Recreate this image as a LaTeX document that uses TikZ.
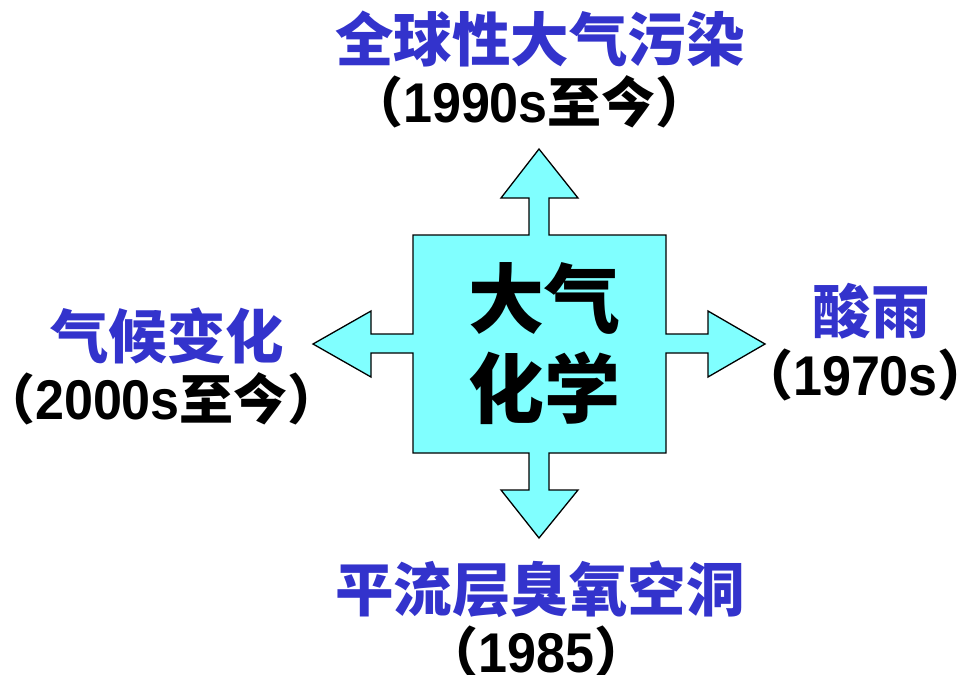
\documentclass[tikz,border=0pt]{standalone}
\usepackage{fontspec}
\newfontfamily\cjk{Noto Sans CJK SC}
\newfontfamily\dgfont{Liberation Sans}[FakeStretch=0.93]
\newcommand\dg[1]{{\dgfont\bfseries\fontsize{56}{56}\selectfont #1}}
\newcommand\lpar{\hspace{-0.5em}（}
\newcommand\rpar{）\hspace{-0.5em}}
\definecolor{lblue}{HTML}{3333CC}
\definecolor{cyanfill}{HTML}{80FFFF}
\tikzset{
  lbl/.style={anchor=base, inner sep=0pt, text=lblue, font=\cjk\bfseries\fontsize{58.5}{58.5}\selectfont},
  yr/.style={anchor=base, inner sep=0pt, text depth=0pt, text=black, font=\cjk\bfseries\fontsize{54}{54}\selectfont},
  core/.style={anchor=base, inner sep=0pt, text=black, font=\cjk\bfseries\fontsize{76}{76}\selectfont},
  crossshape/.style={fill=cyanfill, draw=black, line width=1.3pt, line join=miter}
}
\begin{document}
\begin{tikzpicture}[x=1pt,y=-1pt]
\useasboundingbox (0,0) rectangle (967,675);
\draw[crossshape] (413,235) -- (529,235) -- (529,198) -- (501,198) -- (539,149) -- (578,198) -- (549,198) -- (549,235)
  -- (666,235) -- (666,334) -- (708,334) -- (708,311) -- (765,344) -- (708,377) -- (708,353) -- (666,353)
  -- (666,453) -- (549,453) -- (549,490) -- (578,490) -- (539,538) -- (501,490) -- (529,490) -- (529,453)
  -- (413,453) -- (413,353) -- (371,353) -- (371,377) -- (313,344) -- (371,311) -- (371,334) -- (413,334) -- cycle;
\node[core] (c1) at (544,327) {大气};
\node[core] (c2) at (544,417) {化学};
\node[lbl] (t1) at (540,61) {全球性大气污染};
\node[yr] (t2) at (543,122) {\lpar\dg{1990s}至今\rpar};
\node[lbl] (l1) at (167,358) {气候变化};
\node[yr] (l2) at (175,419) {\lpar\dg{2000s}至今\rpar};
\node[lbl] (r1) at (871,333) {酸雨};
\node[yr] (r2) at (879,395) {\lpar\dg{1970s}\rpar};
\node[lbl] (b1) at (540,611) {平流层臭氧空洞};
\node[yr] (b2) at (550,672) {\lpar\dg{1985}\rpar};
\end{tikzpicture}
\end{document}
